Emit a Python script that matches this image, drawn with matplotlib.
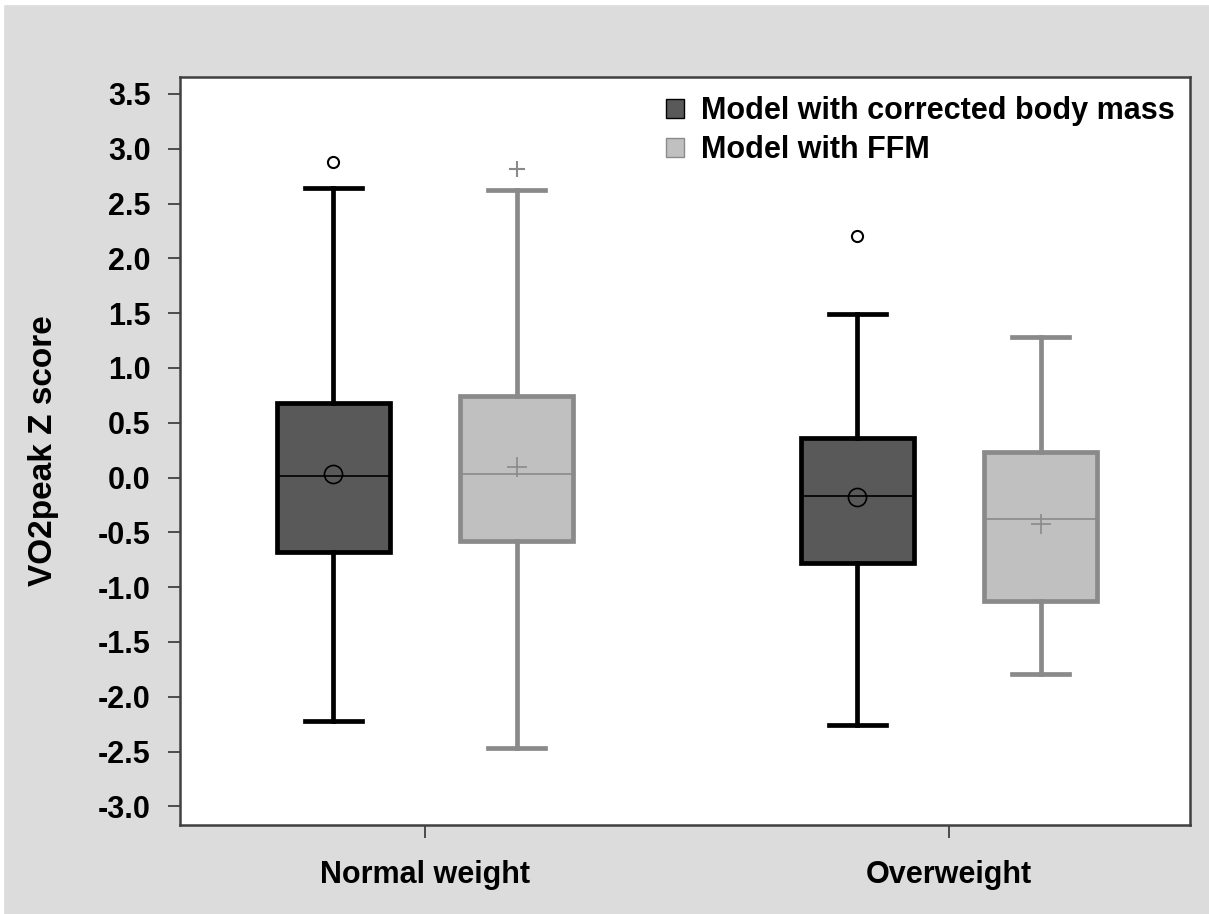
import matplotlib
matplotlib.use("Agg")
from matplotlib import pyplot as plt
from matplotlib.patches import Rectangle

plt.rcParams["font.family"] = ["Liberation Sans", "DejaVu Sans"]
plt.rcParams["font.weight"] = "bold"

groups = ["Normal weight", "Overweight"]
series = ["Model with corrected body mass", "Model with FFM"]

# five-number summaries: [whislo, q1, med, q3, whishi]
dark_stats = [[-2.22, -0.675, 0.01, 0.685, 2.64], [-2.26, -0.78, -0.165, 0.36, 1.49]]
light_stats = [[-2.47, -0.575, 0.03, 0.74, 2.62], [-1.79, -1.13, -0.38, 0.23, 1.28]]
dark_means = [0.03, -0.18]
light_means = [0.10, -0.42]
dark_fliers = [[2.88], [2.20]]
light_fliers = [[2.82], []]

yticks = [3.5, 3.0, 2.5, 2.0, 1.5, 1.0, 0.5, 0.0, -0.5, -1.0, -1.5, -2.0, -2.5, -3.0]

fig = plt.figure(figsize=(12.09, 9.14), dpi=100, facecolor="#dcdcdc")
fig.patches.append(Rectangle((0, 0), 3 / 1209, 1, transform=fig.transFigure, color="white", zorder=-1))
fig.patches.append(Rectangle((0, 1 - 4 / 914), 1, 4 / 914, transform=fig.transFigure, color="white", zorder=-1))
ax = fig.add_axes([180 / 1209, 1 - 825 / 914, 1010 / 1209, 748 / 914])


def make_stats(stats, means, fliers):
    out = []
    for s, m, f in zip(stats, means, fliers):
        out.append(dict(whislo=s[0], q1=s[1], med=s[2], q3=s[3], whishi=s[4], mean=m, fliers=f))
    return out


offset = 0.175
pos = [1, 2]
styles = [
    (dark_stats, dark_means, dark_fliers, -offset, "#595959", "black", "o", 13, 8),
    (light_stats, light_means, light_fliers, offset, "#c0c0c0", "#8a8a8a", "+", 14, 12),
]
for stats, means, fliers, off, fc, ec, mk, msize, fsize in styles:
    ax.bxp(
        make_stats(stats, means, fliers),
        positions=[p + off for p in pos],
        widths=0.216,
        capwidths=0.109,
        showmeans=True,
        patch_artist=True,
        boxprops=dict(facecolor=fc, edgecolor=ec, linewidth=3.4),
        whiskerprops=dict(color=ec, linewidth=3.4),
        capprops=dict(color=ec, linewidth=3.4),
        medianprops=dict(color=ec, linewidth=1.2),
        meanprops=dict(marker=mk, markersize=msize, markerfacecolor="none",
                       markeredgecolor=ec, markeredgewidth=1.2),
        flierprops=dict(marker=mk, markersize=fsize, markerfacecolor="none",
                        markeredgecolor=ec, markeredgewidth=1.5),
    )

ax.set_xlim(0.532, 2.46)
ax.set_ylim(-3.17, 3.655)
ax.set_xticks(pos)
ax.set_xticklabels(groups)
ax.set_yticks(yticks)
ax.set_yticklabels([f"{v:.1f}" for v in yticks])
ax.tick_params(axis="both", labelsize=22, length=9, width=1.2, color="#333333", pad=8)
ax.tick_params(axis="y", pad=12)
ax.tick_params(axis="x", pad=16)
for sp in ax.spines.values():
    sp.set_color("#404040")
    sp.set_linewidth(1.8)
ax.set_ylabel("VO2peak Z score", fontsize=24, fontweight="bold", labelpad=28)

handles = [Rectangle((0, 0), 1, 1, facecolor="#595959", edgecolor="black", linewidth=1),
           Rectangle((0, 0), 1, 1, facecolor="#c0c0c0", edgecolor="#8a8a8a", linewidth=1)]
ax.legend(handles, series, loc="upper right", bbox_to_anchor=(1.0, 0.995), frameon=False,
          handlelength=0.6, handleheight=0.6, handletextpad=0.55, labelspacing=0.3,
          borderaxespad=0.0, borderpad=0.5, prop=dict(size=22, weight="bold"))

fig.savefig("out.png", dpi=100, facecolor=fig.get_facecolor())
